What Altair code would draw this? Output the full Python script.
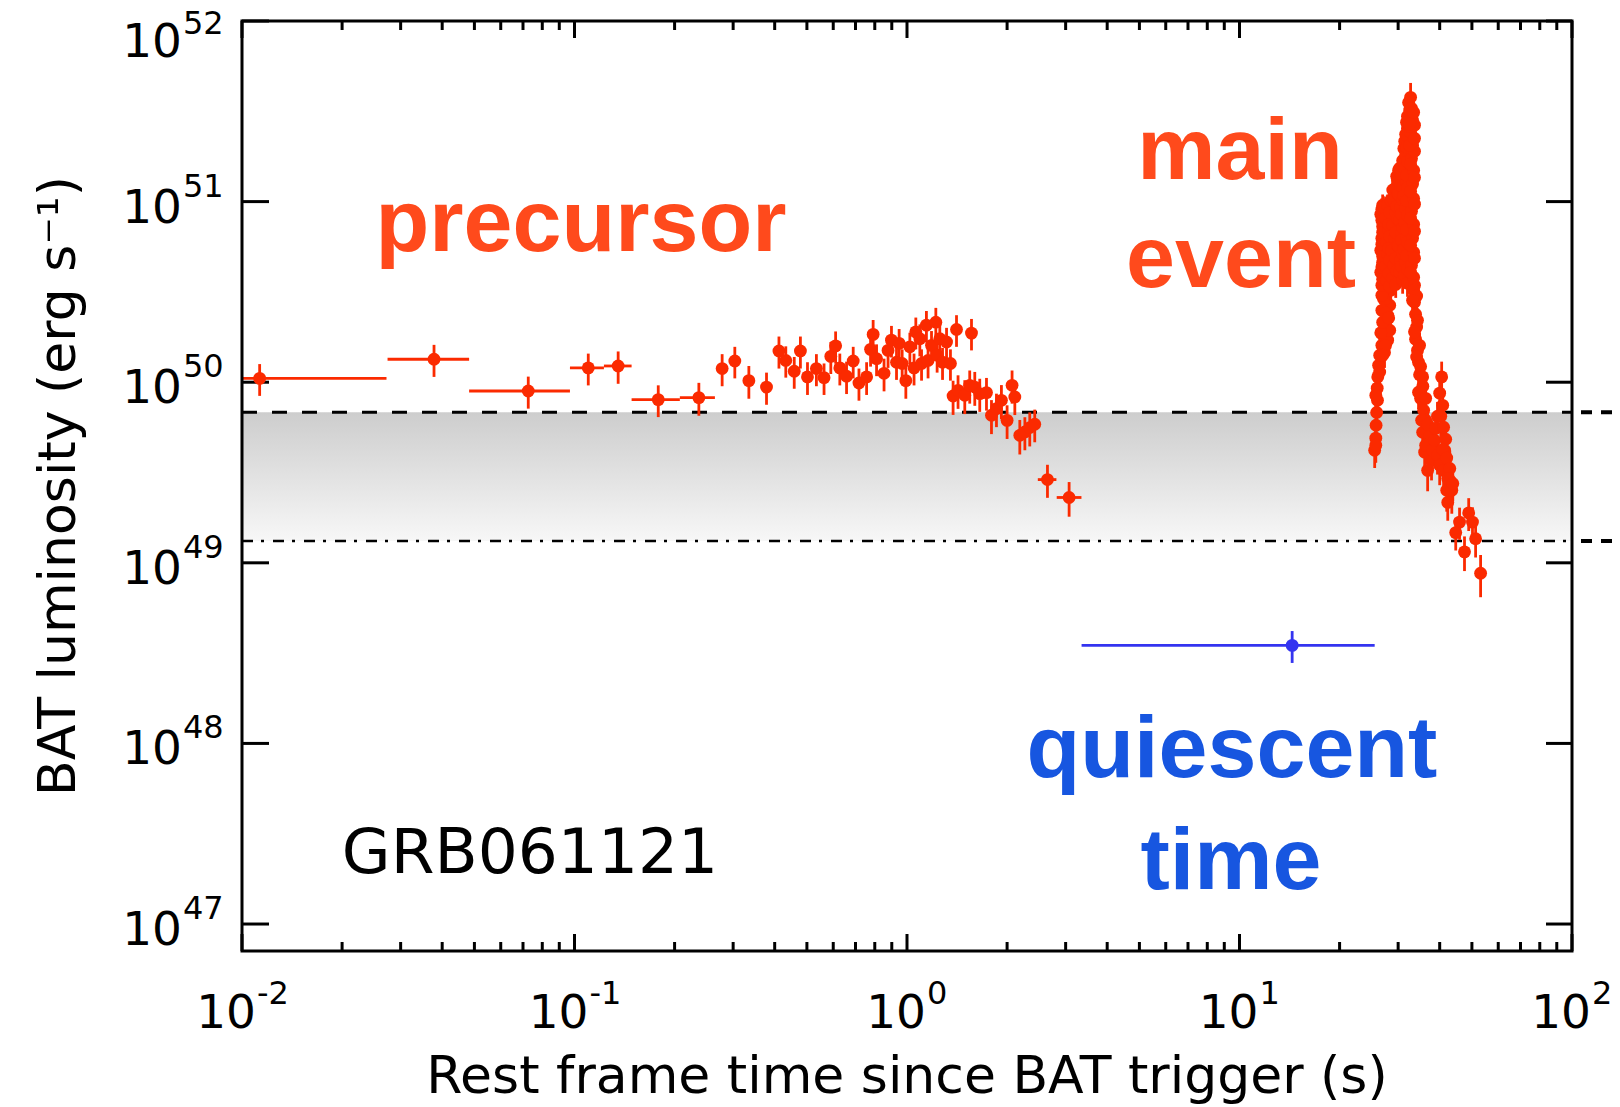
import altair as alt
import pandas as pd

# ---------------------------------------------------------------- layout
W, H = 1330, 930
RED = "#fb2a00"
RED_TEXT = "#ff4a1c"
BLUE = "#3434f0"
BLUE_TEXT = "#1756e0"
FONT = "DejaVu Sans"
BOLD_FONT = "Liberation Sans"

# ---------------------------------------------------------------- data
# precursor, coarse bins (time, luminosity, 1-sigma error, bin start, bin end)
pre_bin_t = [0.0113, 0.0378, 0.0726, 0.110, 0.1353, 0.1786, 0.2366, 2.645, 3.073]
pre_bin_lum = [1.05e50, 1.34e50, 8.94e49, 1.20e50, 1.23e50, 8.01e49, 8.22e49, 2.89e49, 2.30e49]
pre_bin_err = [2.1e49, 2.7e49, 1.8e49, 2.4e49, 2.5e49, 1.6e49, 1.7e49, 6.0e48, 5.0e48]
pre_bin_lo = [0.0095, 0.0274, 0.0482, 0.0969, 0.1226, 0.1485, 0.2074, 2.474, 2.82]
pre_bin_hi = [0.0272, 0.0482, 0.0969, 0.1226, 0.1485, 0.2074, 0.2644, 2.814, 3.347]

# precursor, fine bins
pre_t = [0.278, 0.3035, 0.3345, 0.378, 0.412, 0.432, 0.458, 0.478, 0.502, 0.534,
         0.563, 0.590, 0.610, 0.628, 0.658, 0.689, 0.717, 0.756, 0.777, 0.791,
         0.810, 0.853, 0.877, 0.898, 0.930, 0.947, 0.967, 0.992, 1.02, 1.05,
         1.063, 1.093, 1.106, 1.144, 1.157, 1.185, 1.221, 1.232, 1.255, 1.279,
         1.315, 1.351, 1.409, 1.563, 1.376, 1.424, 1.492, 1.544, 1.599, 1.655,
         1.734, 1.795, 1.858, 1.923, 2.00, 2.07, 2.11, 2.184, 2.262, 2.34, 2.422]
pre_lum = [1.19e50, 1.31e50, 1.02e50, 9.4e49, 1.49e50, 1.32e50, 1.15e50, 1.49e50, 1.07e50, 1.19e50,
           1.06e50, 1.39e50, 1.59e50, 1.20e50, 1.08e50, 1.31e50, 9.9e49, 1.07e50, 1.52e50, 1.84e50,
           1.35e50, 1.12e50, 1.50e50, 1.71e50, 1.29e50, 1.64e50, 1.27e50, 1.02e50, 1.57e50, 1.20e50,
           1.90e50, 1.74e50, 1.27e50, 2.07e50, 1.32e50, 1.60e50, 2.15e50, 1.41e50, 1.74e50, 1.29e50,
           1.67e50, 1.27e50, 1.96e50, 1.87e50, 8.39e49, 9.02e49, 8.46e49, 9.61e49, 9.40e49, 8.65e49,
           8.76e49, 6.56e49, 7.14e49, 7.94e49, 6.15e49, 9.61e49, 8.28e49, 5.08e49, 5.30e49, 5.61e49, 5.85e49]
pre_err = [2.4e49, 2.6e49, 2.1e49, 1.9e49, 3.0e49, 2.6e49, 2.3e49, 3.0e49, 2.2e49, 2.4e49,
           2.1e49, 2.8e49, 3.2e49, 2.4e49, 2.2e49, 2.6e49, 2.0e49, 2.2e49, 3.0e49, 3.7e49,
           2.7e49, 2.3e49, 3.0e49, 3.4e49, 2.6e49, 3.3e49, 2.5e49, 2.1e49, 3.1e49, 2.4e49,
           3.8e49, 3.5e49, 2.5e49, 4.1e49, 2.7e49, 3.2e49, 4.3e49, 2.8e49, 3.5e49, 2.6e49,
           3.3e49, 2.5e49, 3.9e49, 3.7e49, 1.8e49, 1.9e49, 1.8e49, 2.0e49, 2.0e49, 1.8e49,
           1.8e49, 1.4e49, 1.5e49, 1.7e49, 1.3e49, 2.0e49, 1.7e49, 1.1e49, 1.1e49, 1.2e49, 1.2e49]

# main event, rise and pulse complex (25 - 34 s)
main_t = [25.5, 25.7, 25.75, 25.85, 26.0, 25.95, 26.05, 26.2, 26.4, 26.8,
          27.3, 27.1, 27.9, 27.5, 28.3, 27.9, 28.3, 27.5, 28.5,
          25.7, 25.7, 26.4, 26.6, 26.95, 26.8, 27.1, 27.5, 26.8, 27.5, 28.1, 27.5, 26.95,
          26.8, 26.6, 26.95, 26.6, 26.8, 26.95, 26.6, 26.95,
          26.95, 26.8, 26.95, 26.8, 26.95, 26.8, 26.8, 27.1,
          27.7, 27.5, 27.9, 27.7, 28.1, 27.5, 27.9,
          28.3, 28.1, 28.3, 28.1, 28.3, 28.1, 28.3, 28.5, 28.9,
          28.9, 29.1, 28.7, 29.3, 28.9, 29.5, 29.1, 29.5, 29.7,
          29.5, 29.7, 29.5, 29.9, 29.5, 29.9, 29.7, 29.9, 29.9, 30.1,
          30.3, 30.5, 30.1, 30.7, 30.3, 30.5, 30.1, 30.7, 30.3,
          30.95, 30.7, 30.95, 30.7, 30.95, 30.7, 30.95, 30.95, 30.7, 30.95, 31.2,
          31.4, 31.6, 31.2, 31.8, 31.4, 31.6, 31.2, 31.8, 31.4, 31.6, 31.4, 32.0, 32.0,
          32.0, 32.0, 31.8, 32.0, 31.8, 32.0, 31.8, 32.0, 31.8, 32.0, 31.8, 31.6, 31.8,
          32.25, 32.7, 32.5, 32.9, 33.15, 32.7, 33.15, 32.9, 33.4, 33.15, 33.4, 32.9,
          33.4, 33.15, 33.4, 32.9, 33.4,
          33.6, 32.7, 33.6, 32.7, 33.6, 32.7, 33.6, 32.7, 33.6, 32.7, 33.6, 32.5, 33.6,
          32.5, 33.6, 33.4, 32.5]
main_lum = [4.20e49, 4.90e49, 5.78e49, 6.80e49, 7.94e49, 9.27e49, 1.07e50, 1.24e50, 1.41e50, 1.60e50,
            1.46e50, 1.80e50, 1.71e50, 2.07e50, 1.94e50, 2.35e50, 2.67e50, 2.90e50, 3.23e50,
            4.48e49, 8.47e49, 1.14e50, 1.88e50, 2.15e50, 2.50e50, 2.90e50, 3.30e50, 3.03e50,
            2.42e50, 2.27e50, 1.60e50, 1.41e50,
            3.44e50, 4.06e50, 4.61e50, 5.37e50, 6.27e50, 7.29e50, 8.51e50, 9.55e50,
            3.72e50, 4.35e50, 4.98e50, 5.80e50, 6.76e50, 7.88e50, 9.07e50, 9.30e50,
            3.67e50, 4.38e50, 5.11e50, 5.96e50, 6.93e50, 8.09e50, 9.55e50,
            3.40e50, 4.00e50, 4.73e50, 5.51e50, 6.43e50, 7.49e50, 8.72e50, 1.02e51, 1.16e51,
            3.77e50, 4.44e50, 5.37e50, 6.27e50, 7.39e50, 8.72e50, 1.02e51, 1.19e51, 1.38e51,
            3.48e50, 4.12e50, 4.86e50, 5.73e50, 6.76e50, 8.00e50, 9.43e50, 1.11e51, 1.31e51, 1.49e51,
            4.06e50, 4.73e50, 5.66e50, 6.67e50, 7.88e50, 9.31e50, 1.10e51, 1.30e51, 1.53e51,
            3.67e50, 4.38e50, 5.17e50, 6.11e50, 7.19e50, 8.51e50, 1.02e51, 1.20e51, 1.42e51,
            1.69e51, 1.97e51,
            3.91e50, 4.61e50, 5.44e50, 6.35e50, 7.68e50, 9.19e50, 1.08e51, 1.28e51, 1.53e51,
            1.82e51, 2.16e51, 2.55e51, 2.97e51,
            3.53e50, 4.22e50, 5.04e50, 5.96e50, 7.02e50, 8.40e50, 1.01e51, 1.19e51, 1.40e51,
            1.67e51, 2.00e51, 2.36e51, 2.75e51,
            3.54e51, 3.78e51, 3.21e51, 3.29e51, 2.82e51, 2.42e51, 2.05e51, 1.73e51, 1.49e51,
            1.25e51, 1.04e51, 8.84e50, 7.49e50, 6.27e50, 5.24e50, 4.44e50, 3.81e50,
            3.44e50, 4.06e50, 4.86e50, 5.73e50, 6.85e50, 8.09e50, 9.68e50, 1.14e51, 1.36e51,
            1.61e51, 1.90e51, 2.05e51, 2.24e51, 2.61e51, 2.65e51, 3.12e51, 2.68e51]
main_err = [8.5e48, 9.8e48, 1.1e49, 1.3e49, 1.5e49, 1.7e49, 1.9e49, 2.2e49, 2.5e49, 2.8e49,
            2.6e49, 3.1e49, 3.0e49, 3.5e49, 3.3e49, 3.9e49, 4.4e49, 4.7e49, 5.2e49,
            9.0e48, 1.5e49, 2.0e49, 3.2e49, 3.6e49, 4.1e49, 4.7e49, 5.3e49, 4.9e49,
            4.0e49, 3.8e49, 2.8e49, 2.5e49,
            5.5e49, 6.4e49, 7.2e49, 8.3e49, 9.6e49, 1.1e50, 1.3e50, 1.4e50,
            5.9e49, 6.8e49, 7.7e49, 8.9e49, 1.0e50, 1.2e50, 1.35e50, 1.4e50,
            5.8e49, 6.9e49, 7.9e49, 9.1e49, 1.05e50, 1.2e50, 1.4e50,
            5.4e49, 6.3e49, 7.3e49, 8.5e49, 9.8e49, 1.1e50, 1.3e50, 1.5e50, 1.7e50,
            5.9e49, 6.9e49, 8.2e49, 9.5e49, 1.1e50, 1.3e50, 1.5e50, 1.7e50, 2.0e50,
            5.5e49, 6.4e49, 7.5e49, 8.8e49, 1.0e50, 1.2e50, 1.4e50, 1.6e50, 1.9e50, 2.2e50,
            6.3e49, 7.3e49, 8.6e49, 1.0e50, 1.2e50, 1.4e50, 1.6e50, 1.9e50, 2.2e50,
            5.8e49, 6.8e49, 7.9e49, 9.3e49, 1.1e50, 1.25e50, 1.5e50, 1.75e50, 2.05e50,
            2.4e50, 2.8e50,
            6.1e49, 7.1e49, 8.3e49, 9.6e49, 1.15e50, 1.35e50, 1.6e50, 1.9e50, 2.2e50,
            2.6e50, 3.1e50, 3.6e50, 4.2e50,
            5.6e49, 6.6e49, 7.7e49, 9.1e49, 1.05e50, 1.25e50, 1.5e50, 1.75e50, 2.05e50,
            2.4e50, 2.85e50, 3.3e50, 3.9e50,
            5.0e50, 7.6e50, 4.6e50, 4.7e50, 4.0e50, 3.5e50, 3.0e50, 2.5e50, 2.2e50,
            1.85e50, 1.55e50, 1.3e50, 1.1e50, 9.4e49, 7.9e49, 6.8e49, 5.9e49,
            5.4e49, 6.3e49, 7.4e49, 8.7e49, 1.0e50, 1.2e50, 1.4e50, 1.65e50, 1.95e50,
            2.3e50, 2.7e50, 2.9e50, 3.2e50, 3.7e50, 3.8e50, 4.4e50, 3.8e50]

# main event, decay and tail (33 - 54 s)
decay_t = [33.4, 33.6, 33.85, 34.1, 33.85, 34.3, 34.55, 34.8, 35.6, 35.05, 35.8, 36.3,
           35.55, 37.05, 36.05, 37.8, 36.8,
           34.1, 33.15, 34.3, 33.6, 34.8, 34.1, 35.05, 35.55, 34.55, 36.3, 35.3, 36.8,
           37.3, 36.3, 38.05, 38.6, 38.9, 39.4, 39.4, 41.4, 40.0, 41.1, 42.9, 42.0,
           40.55, 40.0, 40.85, 40.3, 41.1, 41.7, 40.85, 42.0, 42.9, 42.3, 43.5,
           43.8, 42.3, 45.9, 44.7, 48.9, 50.2, 47.5, 51.3, 53.1]
decay_lum = [3.23e50, 2.77e50, 2.38e50, 2.02e50, 1.73e50, 1.50e50, 1.29e50, 1.10e50, 9.50e49,
             8.14e49, 7.00e49, 6.16e49, 5.28e49, 4.68e49, 4.10e49, 3.70e49, 3.25e49,
             3.00e50, 2.84e50, 2.20e50, 1.90e50, 1.60e50, 1.38e50, 1.22e50, 1.07e50, 8.80e49,
             8.14e49, 6.16e49, 5.85e49, 5.00e49, 4.48e49, 4.20e49, 4.77e49, 5.55e49, 6.48e49,
             3.94e49, 4.20e49, 3.47e49, 3.25e49, 2.86e49, 2.52e49,
             1.07e50, 8.70e49, 7.45e49, 6.48e49, 5.63e49, 4.83e49, 4.25e49, 3.80e49, 3.33e49,
             2.93e49, 2.52e49,
             2.75e49, 2.16e49, 1.68e49, 1.47e49, 1.89e49, 1.68e49, 1.15e49, 1.36e49, 8.75e48]
decay_err = [5.1e49, 4.4e49, 3.9e49, 3.3e49, 2.9e49, 2.6e49, 2.3e49, 2.0e49, 1.8e49,
             1.6e49, 1.4e49, 1.25e49, 1.1e49, 1.0e49, 9.0e48, 8.4e48, 7.6e48,
             4.8e49, 4.6e49, 3.6e49, 3.2e49, 2.8e49, 2.4e49, 2.2e49, 2.0e49, 1.7e49,
             1.6e49, 1.25e49, 1.2e49, 1.05e49, 9.5e48, 9.0e48, 1.0e49, 1.15e49, 1.3e49,
             8.6e48, 9.0e48, 7.8e48, 7.4e48, 6.6e48, 6.0e48,
             2.3e49, 1.9e49, 1.7e49, 1.5e49, 1.3e49, 1.15e49, 1.0e49, 9.2e48, 8.3e48,
             7.4e48, 6.5e48,
             5.5e48, 4.5e48, 3.4e48, 3.0e48, 3.9e48, 3.5e48, 2.5e48, 2.9e48, 2.3e48]

# quiescent interval
quiet_t = [14.4]
quiet_lum = [3.49e48]
quiet_err = [7.0e47]
quiet_lo = [3.35]
quiet_hi = [25.5]

# luminosity thresholds bounding the shaded band
band_top_lum = 6.81e49
band_bottom_lum = 1.32e49

# axis ticks and labels (base 10, exponent drawn as a superscript)
x_major = [0.01, 0.1, 1, 10, 100]
x_exp = ["-2", "-1", "0", "1", "2"]
x_minor = [m * 10.0 ** e for e in range(-2, 2) for m in range(2, 10)]
y_major = [1e47, 1e48, 1e49, 1e50, 1e51, 1e52]
y_exp = ["47", "48", "49", "50", "51", "52"]
x_title = "Rest frame time since BAT trigger (s)"
y_title = "BAT luminosity (erg s⁻¹)"

# ---------------------------------------------------------------- frames
pre_bin = pd.DataFrame({"t": pre_bin_t, "lum": pre_bin_lum, "err": pre_bin_err,
                        "lo": pre_bin_lo, "hi": pre_bin_hi})
pre_fine = pd.DataFrame({"t": pre_t, "lum": pre_lum, "err": pre_err})
main = pd.DataFrame({"t": main_t, "lum": main_lum, "err": main_err})
decay = pd.DataFrame({"t": decay_t, "lum": decay_lum, "err": decay_err})
red_pts = pd.concat([pre_bin[["t", "lum", "err"]], pre_fine, main, decay], ignore_index=True)
red_pts["y_lo"] = red_pts["lum"] - red_pts["err"]
red_pts["y_hi"] = red_pts["lum"] + red_pts["err"]

quiet = pd.DataFrame({"t": quiet_t, "lum": quiet_lum, "err": quiet_err,
                      "lo": quiet_lo, "hi": quiet_hi})
quiet["y_lo"] = quiet["lum"] - quiet["err"]
quiet["y_hi"] = quiet["lum"] + quiet["err"]

x_scale = alt.Scale(type="log", domain=[0.01, 100], nice=False)
y_scale = alt.Scale(type="log", domain=[7.09e46, 1e52], nice=False)

X = lambda f: alt.X(f, type="quantitative", scale=x_scale, axis=None)
Y = lambda f: alt.Y(f, type="quantitative", scale=y_scale, axis=None)
one = pd.DataFrame({"k": [0]})

# ---------------------------------------------------------------- shaded band and levels
band = alt.Chart(pd.DataFrame({"top": [band_top_lum], "bottom": [band_bottom_lum]})).mark_rect(
    fill=alt.Gradient(gradient="linear", x1=0, x2=0, y1=0, y2=1,
                      stops=[alt.GradientStop(color="#cdcdcd", offset=0),
                             alt.GradientStop(color="#f7f7f7", offset=1)])
).encode(x=alt.value(0), x2=alt.value(W), y=Y("top"), y2=alt.Y2("bottom"))

dashed = alt.Chart(pd.DataFrame({"v": [band_top_lum]})).mark_rule(
    color="black", strokeWidth=3, strokeDash=[15, 15]).encode(
    y=Y("v"), x=alt.value(0), x2=alt.value(W))
dashdot = alt.Chart(pd.DataFrame({"v": [band_bottom_lum]})).mark_rule(
    color="black", strokeWidth=2.5, strokeDash=[11, 8, 3, 9]).encode(
    y=Y("v"), x=alt.value(0), x2=alt.value(W))
stubs = alt.Chart(pd.DataFrame({"v": [band_top_lum, band_bottom_lum]})).mark_rule(
    color="black", strokeWidth=4, strokeDash=[11, 9]).encode(
    y=Y("v"), x=alt.value(W + 9), x2=alt.value(W + 48))

# ---------------------------------------------------------------- inward ticks
ym = pd.DataFrame({"v": y_major})
xM = pd.DataFrame({"v": x_major})
xm = pd.DataFrame({"v": x_minor})
tick_style = dict(color="black", strokeWidth=3)
ticks = [
    alt.Chart(ym).mark_rule(**tick_style).encode(y=Y("v"), x=alt.value(0), x2=alt.value(27)),
    alt.Chart(ym).mark_rule(**tick_style).encode(y=Y("v"), x=alt.value(W - 26), x2=alt.value(W)),
    alt.Chart(xM).mark_rule(**tick_style).encode(x=X("v"), y=alt.value(H), y2=alt.value(H - 17)),
    alt.Chart(xM).mark_rule(**tick_style).encode(x=X("v"), y=alt.value(0), y2=alt.value(17)),
    alt.Chart(xm).mark_rule(**tick_style).encode(x=X("v"), y=alt.value(H), y2=alt.value(H - 9)),
    alt.Chart(xm).mark_rule(**tick_style).encode(x=X("v"), y=alt.value(0), y2=alt.value(9)),
]

# ---------------------------------------------------------------- tick labels and titles
BASE_SIZE, EXP_SIZE, TITLE_SIZE = 47, 32, 52
ylab = pd.DataFrame({"v": y_major, "e": y_exp})
ylab_top = ylab[ylab["v"] == max(y_major)]
ylab_rest = ylab[ylab["v"] != max(y_major)]
xlab = pd.DataFrame({"v": x_major, "e": x_exp})
xlab_long = xlab[xlab["e"].str.len() > 1]
xlab_short = xlab[xlab["e"].str.len() == 1]


def base_text(df, enc, **kw):
    return alt.Chart(df).mark_text(text="10", font=FONT, fontSize=BASE_SIZE, color="black",
                                   baseline="alphabetic", **kw).encode(**enc)


def exp_text(df, enc, **kw):
    return alt.Chart(df).mark_text(font=FONT, fontSize=EXP_SIZE, color="black",
                                   baseline="alphabetic", align="left", **kw).encode(
        text="e:N", **enc)


labels = [
    base_text(ylab_rest, dict(y=Y("v"), x=alt.value(-60)), align="right", dy=21),
    exp_text(ylab_rest, dict(y=Y("v"), x=alt.value(-59)), dy=-5),
    base_text(ylab_top, dict(y=Y("v"), x=alt.value(-60)), align="right", dy=36),
    exp_text(ylab_top, dict(y=Y("v"), x=alt.value(-59)), dy=13),
    base_text(xlab_short, dict(x=X("v"), y=alt.value(H + 77)), align="right", dx=19),
    exp_text(xlab_short, dict(x=X("v"), y=alt.value(H + 53)), dx=20),
    base_text(xlab_long, dict(x=X("v"), y=alt.value(H + 77)), align="right", dx=14),
    exp_text(xlab_long, dict(x=X("v"), y=alt.value(H + 53)), dx=15),
    alt.Chart(one).mark_text(text=x_title, font=FONT, fontSize=TITLE_SIZE, color="black",
                             align="center", baseline="alphabetic").encode(
        x=alt.value(W / 2), y=alt.value(H + 142)),
    alt.Chart(one).mark_text(text=y_title, font=FONT, fontSize=TITLE_SIZE, color="black",
                             angle=270, align="center", baseline="alphabetic").encode(
        x=alt.value(-167), y=alt.value(H / 2)),
]

# ---------------------------------------------------------------- data marks
red_yerr = alt.Chart(red_pts).mark_rule(color=RED, strokeWidth=2.8).encode(
    x=X("t"), y=Y("y_lo"), y2=alt.Y2("y_hi"))
red_xerr = alt.Chart(pre_bin).mark_rule(color=RED, strokeWidth=2.8, clip=True).encode(
    x=X("lo"), x2=alt.X2("hi"), y=Y("lum"))
red_dots = alt.Chart(red_pts).mark_circle(color=RED, size=165, opacity=1).encode(
    x=X("t"), y=Y("lum"))

blue_yerr = alt.Chart(quiet).mark_rule(color=BLUE, strokeWidth=2.8).encode(
    x=X("t"), y=Y("y_lo"), y2=alt.Y2("y_hi"))
blue_xerr = alt.Chart(quiet).mark_rule(color=BLUE, strokeWidth=2.8).encode(
    x=X("lo"), x2=alt.X2("hi"), y=Y("lum"))
blue_dot = alt.Chart(quiet).mark_circle(color=BLUE, size=165, opacity=1).encode(
    x=X("t"), y=Y("lum"))


def note(text, x, y, color, size, bold=True):
    return alt.Chart(one).mark_text(
        text=text, color=color, fontSize=size, font=BOLD_FONT if bold else FONT,
        fontWeight="bold" if bold else "normal", align="center", baseline="alphabetic"
    ).encode(x=alt.value(x), y=alt.value(y))


notes = [
    note("precursor", 339, 230, RED_TEXT, 88),
    note("main", 998, 158, RED_TEXT, 88),
    note("event", 999, 266, RED_TEXT, 88),
    note("quiescent", 990, 756, BLUE_TEXT, 88),
    note("time", 989, 868, BLUE_TEXT, 88),
    note("GRB061121", 288, 852, "black", 63, bold=False),
]

frame = alt.Chart(one).mark_rect(filled=False, stroke="black", strokeWidth=3).encode(
    x=alt.value(0), x2=alt.value(W), y=alt.value(0), y2=alt.value(H))

chart = alt.layer(
    band, dashed, dashdot, stubs, *ticks,
    red_yerr, red_xerr, red_dots, blue_yerr, blue_xerr, blue_dot,
    *notes, *labels, frame
).properties(
    width=W, height=H,
    padding={"left": 242, "top": 21, "right": 48, "bottom": 156},
    autosize=alt.AutoSizeParams(type="none"),
    background="white",
).configure_view(stroke=None)

chart.save("out.html", embed_options={"renderer": "svg", "actions": False})
